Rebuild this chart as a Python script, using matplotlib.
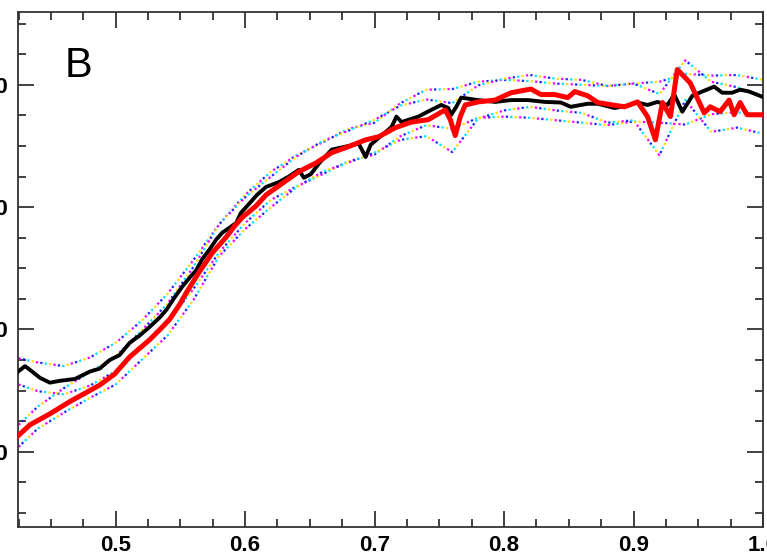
import matplotlib
matplotlib.use("Agg")
import matplotlib.pyplot as plt
from matplotlib.ticker import MultipleLocator

# ---- data ----
black_x = [0.4246, 0.430, 0.4338, 0.4415, 0.4492, 0.4569, 0.4685, 0.480, 0.4877, 0.4954,
           0.503, 0.5108, 0.5185, 0.5262, 0.5338, 0.5392, 0.5454, 0.5515, 0.5569, 0.5623,
           0.5669, 0.5723, 0.5777, 0.5823, 0.5877, 0.5931, 0.5969, 0.6008, 0.6092, 0.6162,
           0.6262, 0.6338, 0.6415, 0.6454, 0.6508, 0.6569, 0.6669, 0.680, 0.6877, 0.6931,
           0.697, 0.7031, 0.7131, 0.7169, 0.7208, 0.7338, 0.7438, 0.7515, 0.7569, 0.7592,
           0.7631, 0.7669, 0.780, 0.7931, 0.8054, 0.8185, 0.8315, 0.8438, 0.8515, 0.8646,
           0.8723, 0.8854, 0.8954, 0.9031, 0.9108, 0.9185, 0.9262, 0.9315, 0.9377, 0.9454,
           0.9531, 0.9623, 0.9685, 0.9762, 0.9823, 0.9892, 1.0]
black_y = [33.1, 34.0, 33.4, 32.1, 31.3, 31.6, 31.9, 33.1, 33.6, 35.0,
           35.8, 37.8, 39.0, 40.4, 41.9, 43.2, 45.2, 47.0, 48.4, 49.7,
           51.5, 53.0, 54.7, 55.8, 56.6, 57.4, 59.1, 60.0, 62.0, 63.3,
           64.1, 65.0, 66.1, 64.8, 65.4, 67.1, 69.4, 70.0, 70.4, 68.2,
           70.2, 71.3, 73.1, 74.8, 73.9, 74.8, 75.9, 76.7, 76.2, 75.1,
           76.4, 77.9, 77.5, 77.2, 77.5, 77.5, 77.2, 77.1, 76.4, 76.9,
           76.9, 76.2, 76.6, 77.1, 76.7, 77.2, 76.7, 78.4, 75.6, 78.2,
           78.9, 79.7, 78.7, 78.7, 79.2, 78.9, 78.0]

red_x = [0.4246, 0.4338, 0.4492, 0.4646, 0.4877, 0.4992, 0.5108, 0.5262, 0.5338, 0.5415,
         0.5492, 0.5546, 0.5646, 0.5746, 0.5854, 0.5915, 0.5977, 0.6085, 0.6162, 0.6262,
         0.6415, 0.6546, 0.6669, 0.680, 0.6931, 0.7031, 0.7162, 0.7285, 0.7415, 0.7546,
         0.7585, 0.7623, 0.7662, 0.770, 0.780, 0.7931, 0.8054, 0.8208, 0.8285, 0.8392,
         0.8492, 0.8546, 0.8646, 0.8723, 0.8838, 0.8931, 0.9031, 0.9108, 0.9169, 0.9223,
         0.9285, 0.9338, 0.9438, 0.9546, 0.9592, 0.9669, 0.9738, 0.9777, 0.9823, 0.9877, 1.0]
red_y = [22.6, 24.4, 26.2, 28.2, 30.9, 32.7, 35.5, 38.3, 39.9, 41.6,
         44.0, 46.0, 49.4, 52.5, 55.1, 56.8, 58.3, 60.2, 62.0, 63.5,
         65.8, 67.2, 68.9, 69.9, 71.0, 71.5, 73.0, 73.9, 74.3, 75.9,
         74.3, 71.7, 74.8, 76.7, 77.2, 77.5, 78.7, 79.3, 78.4, 78.4,
         77.9, 78.9, 78.2, 77.1, 76.7, 76.4, 77.2, 74.8, 71.0, 77.1,
         74.8, 82.5, 80.3, 75.4, 76.4, 75.6, 77.5, 75.1, 77.1, 75.1, 75.1]

band_x = [0.425, 0.44, 0.46, 0.48, 0.50, 0.52, 0.54, 0.56, 0.58, 0.60,
          0.62, 0.64, 0.66, 0.68, 0.70, 0.72, 0.74, 0.76, 0.78, 0.80,
          0.82, 0.84, 0.86, 0.88, 0.90, 0.92, 0.94, 0.96, 0.98, 1.0]
black_hi = [35.3, 34.6, 34.0, 35.4, 37.8, 41.4, 45.8, 51.3, 57.2, 62.0,
            65.8, 68.5, 70.6, 72.8, 73.8, 77.0, 79.2, 79.3, 80.5, 80.8,
            80.6, 80.2, 80.0, 79.8, 80.2, 80.5, 81.8, 81.5, 81.6, 80.8]
black_lo = [31.0, 29.9, 29.4, 30.8, 33.2, 37.0, 41.2, 46.6, 52.6, 57.4,
            61.2, 63.4, 65.4, 67.5, 68.6, 71.6, 73.4, 72.8, 74.6, 74.8,
            74.6, 74.2, 73.8, 73.4, 74.0, 73.8, 73.5, 75.2, 75.5, 75.0]
red_hi = [24.4, 27.4, 30.4, 33.0, 35.6, 39.8, 44.2, 50.2, 57.2, 61.6,
          65.0, 68.3, 70.8, 72.5, 74.3, 76.6, 77.6, 77.0, 79.9, 81.0,
          81.6, 81.0, 80.8, 79.8, 80.2, 78.5, 84.0, 80.5, 79.6, 78.2]
red_lo = [20.8, 23.8, 26.4, 28.8, 31.0, 35.0, 39.0, 44.8, 52.0, 56.4,
          60.0, 63.3, 65.8, 67.3, 68.9, 71.0, 71.6, 69.0, 74.5, 75.8,
          76.4, 75.8, 75.4, 73.8, 74.2, 68.5, 77.5, 72.3, 73.0, 72.0]

x_ticks = [0.5, 0.6, 0.7, 0.8, 0.9, 1.0]
x_ticklabels = ["0.5", "0.6", "0.7", "0.8", "0.9", "1.0"]
y_ticks = [20, 40, 60, 80]
y_ticklabels = ["20", "40", "60", "80"]
panel_label = "B"

# ---- figure ----
fig = plt.figure(figsize=(7.67, 5.56), dpi=100)
ax = fig.add_axes([18 / 767, 1 - 527 / 556, 745 / 767, 515 / 556])

dot_colors = ["#ff00ff", "#ffdd00", "#00e5ff", "#2020ff"]
for bx, by in [(band_x, black_hi), (band_x, black_lo), (band_x, red_hi), (band_x, red_lo)]:
    for i, c in enumerate(dot_colors):
        ax.plot(bx, by, color=c, lw=1.6, linestyle=(i * 2.0, (1.0, 7.0)), zorder=2)

ax.plot(black_x, black_y, color="black", lw=2.8, zorder=3)
ax.plot(red_x, red_y, color="#ff0000", lw=3.6, zorder=4)

ax.set_xlim(0.4246, 1.0)
ax.set_ylim(7.7, 91.9)
ax.set_xticks(x_ticks)
ax.set_xticklabels(x_ticklabels)
ax.set_yticks(y_ticks)
ax.set_yticklabels(y_ticklabels)
ax.xaxis.set_minor_locator(MultipleLocator(0.025))
ax.yaxis.set_minor_locator(MultipleLocator(5))

ax.tick_params(which="both", direction="in", top=True, right=True, color="#333333", width=1.3)
ax.tick_params(which="major", length=11.5)
ax.tick_params(axis="x", which="major", pad=6)
ax.tick_params(axis="y", which="major", pad=7)
ax.tick_params(which="minor", length=5.5)
for lab in ax.get_xticklabels() + ax.get_yticklabels():
    lab.set_fontfamily("Liberation Sans")
    lab.set_fontweight("bold")
    lab.set_fontsize(16)
for sp in ax.spines.values():
    sp.set_linewidth(1.3)
    sp.set_color("#333333")

ax.text(0.063, 0.874, panel_label, transform=ax.transAxes, fontsize=30,
        family="Liberation Sans", ha="left", va="baseline")

fig.savefig("out.png", dpi=100)
